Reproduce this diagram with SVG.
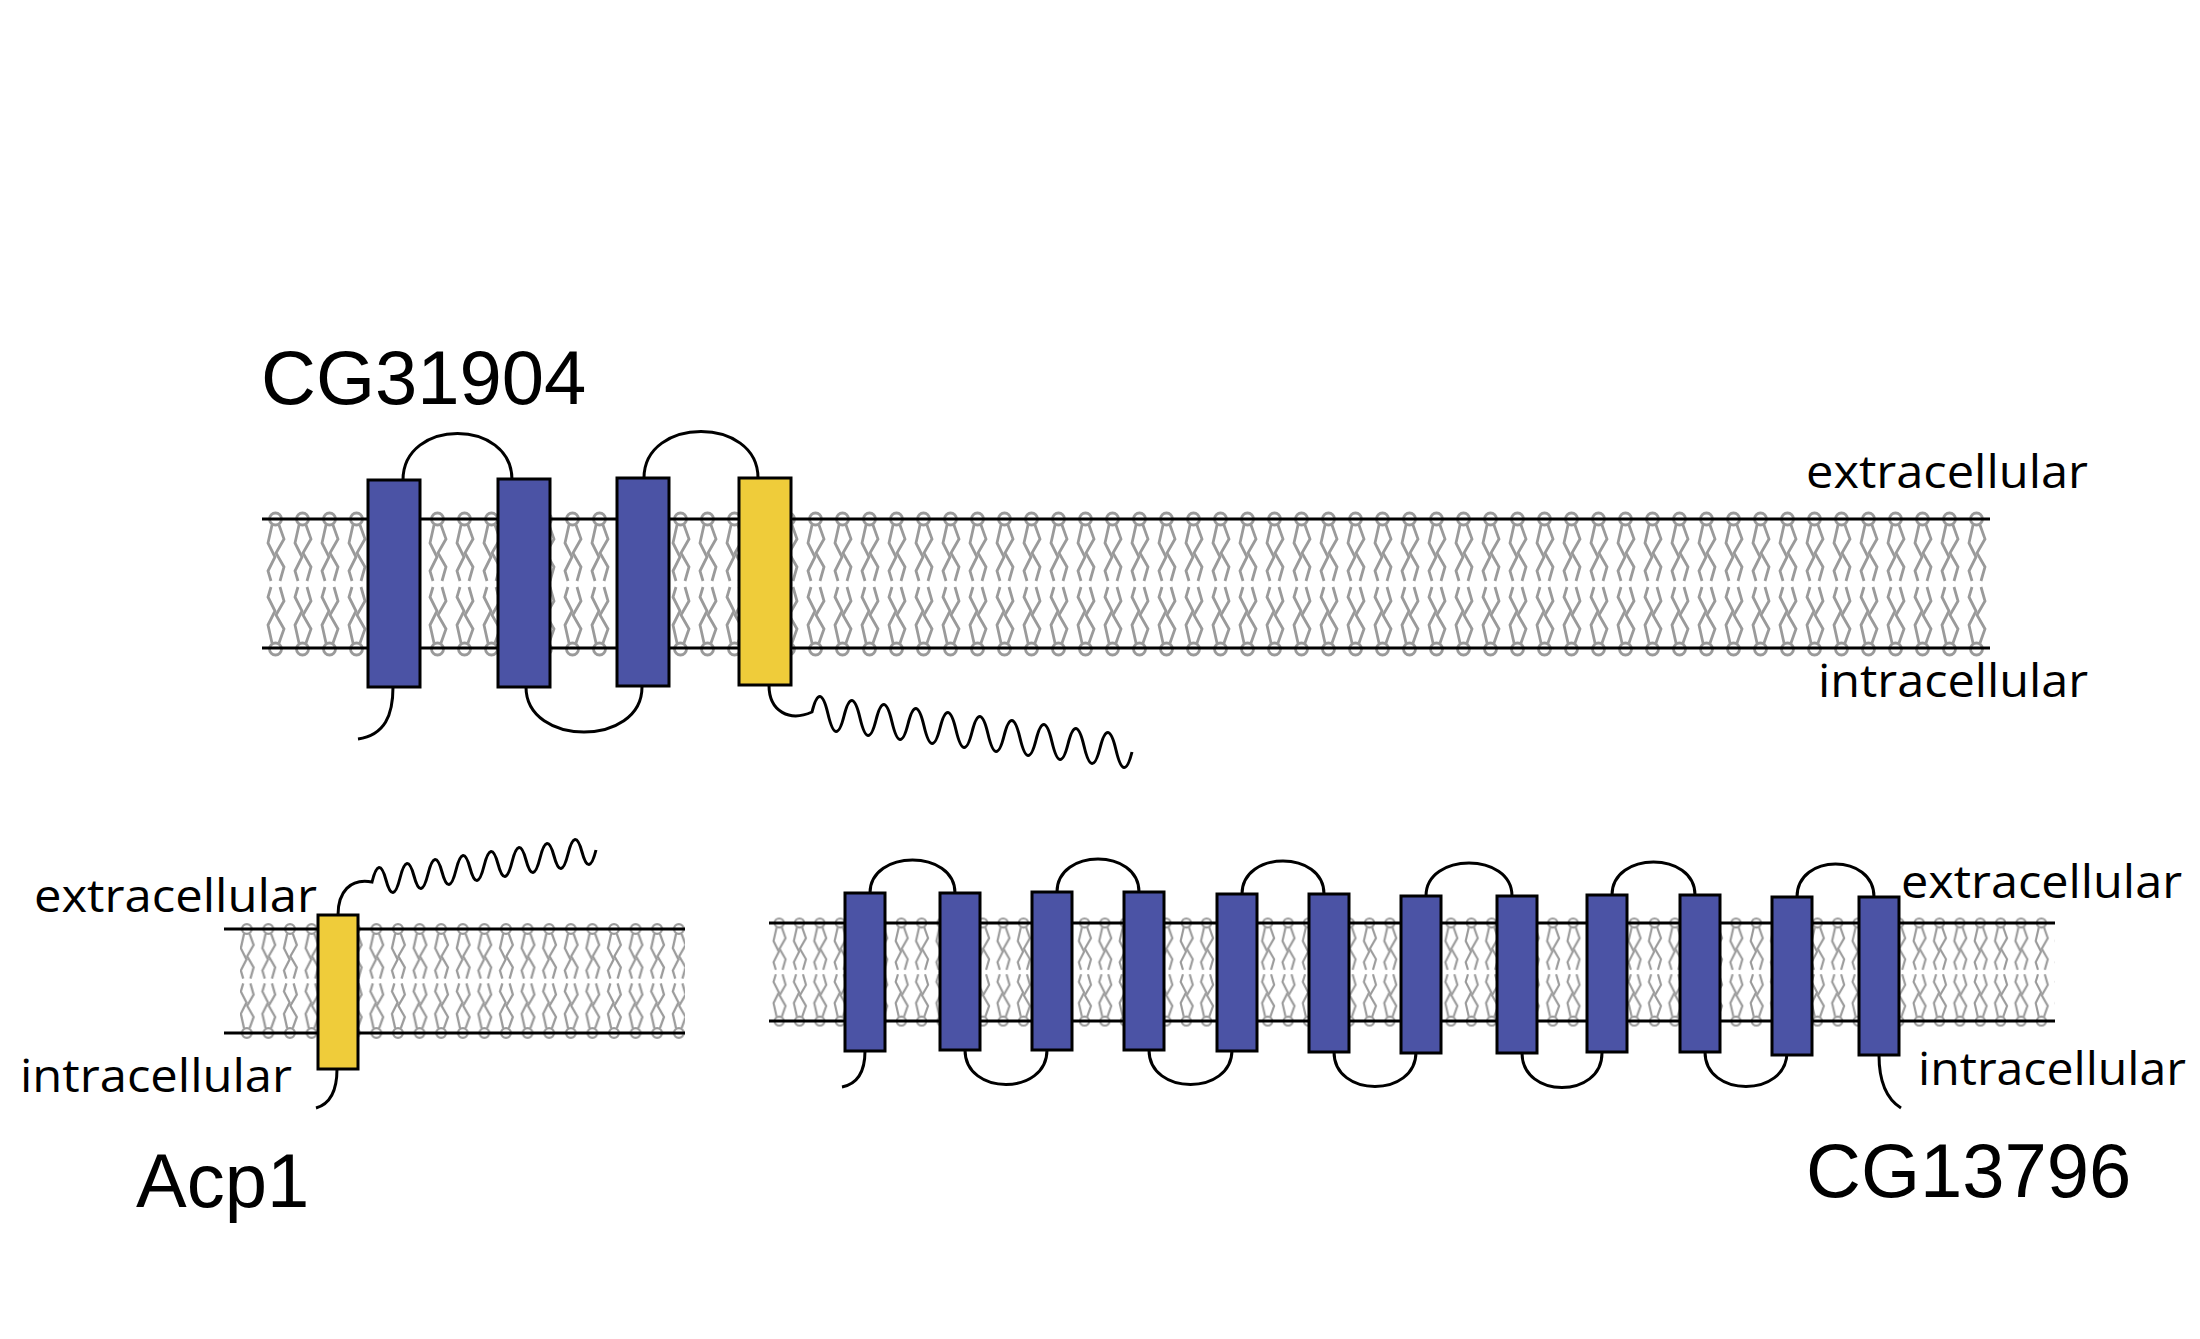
<svg xmlns="http://www.w3.org/2000/svg" xmlns:xlink="http://www.w3.org/1999/xlink" width="2200" height="1339" viewBox="0 0 2200 1339">
<style>
.lip{fill:none;stroke:#9a9a9a;stroke-width:2.8}
.mem{stroke:#000;stroke-width:3}
.tm{stroke:#000;stroke-width:3}
.blue{fill:#4b53a5}
.yel{fill:#efcc3a}
.loop{fill:none;stroke:#000;stroke-width:3}
.lab{font-family:"Open Sans","Liberation Sans",sans-serif;font-size:46px;fill:#000}
.title{font-family:"Liberation Sans",Arial,sans-serif;font-size:76px;fill:#000}
</style>
<defs>
<g id="lipid" class="lip">
<circle cx="13.5" cy="10" r="6"/>
<path d="M10,16 L6,34 L13,48 L6,62 L9,72"/>
<path d="M17,16 L22,30 L14,44 L22,58 L18,72"/>
<circle cx="13.5" cy="140" r="6"/>
<path d="M10,134 L6,116 L13,102 L6,88 L9,78"/>
<path d="M17,134 L22,120 L14,106 L22,92 L18,78"/>
</g>
<pattern id="pTop" patternUnits="userSpaceOnUse" width="27" height="150" patternTransform="translate(262,509)"><use xlink:href="#lipid"/></pattern>
<pattern id="pAcp" patternUnits="userSpaceOnUse" width="27" height="150" patternTransform="translate(236,921) scale(0.8)"><use xlink:href="#lipid"/></pattern>
<pattern id="pCG" patternUnits="userSpaceOnUse" width="27" height="150" patternTransform="translate(769,915.5) scale(0.754)"><use xlink:href="#lipid"/></pattern>
</defs>

<g id="membrane-CG31904">
<rect x="264" y="509" width="1726" height="150" fill="url(#pTop)"/>
<line class="mem" x1="262" y1="519" x2="1990" y2="519"/>
<line class="mem" x1="262" y1="648" x2="1990" y2="648"/>
</g>
<g id="membrane-Acp1">
<rect x="240" y="921" width="445" height="120" fill="url(#pAcp)"/>
<line class="mem" x1="224" y1="929" x2="685" y2="929"/>
<line class="mem" x1="224" y1="1033" x2="685" y2="1033"/>
</g>
<g id="membrane-CG13796">
<rect x="769" y="915" width="1286" height="114" fill="url(#pCG)"/>
<line class="mem" x1="769" y1="923" x2="2055" y2="923"/>
<line class="mem" x1="769" y1="1021" x2="2055" y2="1021"/>
</g>

<g id="connectors">
<path class="loop" d="M403,480 C403,418 512,418 512,480"/>
<path class="loop" d="M644,478 C644,416 758,416 758,478"/>
<path class="loop" d="M526,687 C526,747 642,747 642,687"/>
<path class="loop" d="M393,687 C393,715 385,735 358,739"/>
<path class="loop" d="M769,685 C769,712 790,722 812,712 q8,-32 16,2 t16,2 t16,2 t16,2 t16,2 t16,2 t16,2 t16,2 t16,2 t16,2 t16,2 t16,2 t16,2 t16,2 t16,2 t16,2 t16,2 t16,2 t16,2 t16,2"/>
<path class="loop" d="M338,915 C338,892 350,878 372,882 q7,-28 14,-2 t14,-2 t14,-2 t14,-2 t14,-2 t14,-2 t14,-2 t14,-2 t14,-2 t14,-2 t14,-2 t14,-2 t14,-2 t14,-2 t14,-2 t14,-2"/>
<path class="loop" d="M337,1069 C337,1090 330,1104 316,1108"/>
<path class="loop" d="M870,893 C870,849 955,849 955,893"/>
<path class="loop" d="M1057,892 C1057,848 1139,848 1139,892"/>
<path class="loop" d="M1242,894 C1242,850 1324,850 1324,894"/>
<path class="loop" d="M1426,896 C1426,852 1512,852 1512,896"/>
<path class="loop" d="M1612,895 C1612,851 1695,851 1695,895"/>
<path class="loop" d="M1797,897 C1797,853 1874,853 1874,897"/>
<path class="loop" d="M965,1050 C965,1096 1047,1096 1047,1050"/>
<path class="loop" d="M1149,1050 C1149,1096 1232,1096 1232,1050"/>
<path class="loop" d="M1334,1052 C1334,1098 1416,1098 1416,1052"/>
<path class="loop" d="M1522,1053 C1522,1099 1602,1099 1602,1053"/>
<path class="loop" d="M1705,1052 C1705,1098 1787,1098 1787,1052"/>
<path class="loop" d="M865,1051 C865,1072 857,1084 842,1087"/>
<path class="loop" d="M1879,1055 C1879,1080 1885,1098 1901,1108"/>
</g>

<g id="CG31904">
<rect id="tm1" class="tm blue" x="368" y="480" width="52" height="207"/>
<rect id="tm2" class="tm blue" x="498" y="479" width="52" height="208"/>
<rect id="tm3" class="tm blue" x="617" y="478" width="52" height="208"/>
<rect id="tm4" class="tm yel" x="739" y="478" width="52" height="207"/>
<text class="title" x="261" y="404">CG31904</text>
</g>

<g id="Acp1">
<rect class="tm yel" x="318" y="915" width="40" height="154"/>
<text class="title" x="136" y="1207">Acp1</text>
</g>

<g id="CG13796">
<rect class="tm blue" x="845" y="893" width="40" height="158"/>
<rect class="tm blue" x="940" y="893" width="40" height="157"/>
<rect class="tm blue" x="1032" y="892" width="40" height="158"/>
<rect class="tm blue" x="1124" y="892" width="40" height="158"/>
<rect class="tm blue" x="1217" y="894" width="40" height="157"/>
<rect class="tm blue" x="1309" y="894" width="40" height="158"/>
<rect class="tm blue" x="1401" y="896" width="40" height="157"/>
<rect class="tm blue" x="1497" y="896" width="40" height="157"/>
<rect class="tm blue" x="1587" y="895" width="40" height="157"/>
<rect class="tm blue" x="1680" y="895" width="40" height="157"/>
<rect class="tm blue" x="1772" y="897" width="40" height="158"/>
<rect class="tm blue" x="1859" y="897" width="40" height="158"/>
<text class="title" x="1806" y="1197">CG13796</text>
</g>

<g id="labels">
<text class="lab" x="1806" y="488" textLength="282" lengthAdjust="spacingAndGlyphs">extracellular</text>
<text class="lab" x="1818" y="697" textLength="270" lengthAdjust="spacingAndGlyphs">intracellular</text>
<text class="lab" x="34" y="912" textLength="283" lengthAdjust="spacingAndGlyphs">extracellular</text>
<text class="lab" x="20" y="1092" textLength="272" lengthAdjust="spacingAndGlyphs">intracellular</text>
<text class="lab" x="1901" y="898" textLength="281" lengthAdjust="spacingAndGlyphs">extracellular</text>
<text class="lab" x="1918" y="1085" textLength="268" lengthAdjust="spacingAndGlyphs">intracellular</text>
</g>
</svg>
